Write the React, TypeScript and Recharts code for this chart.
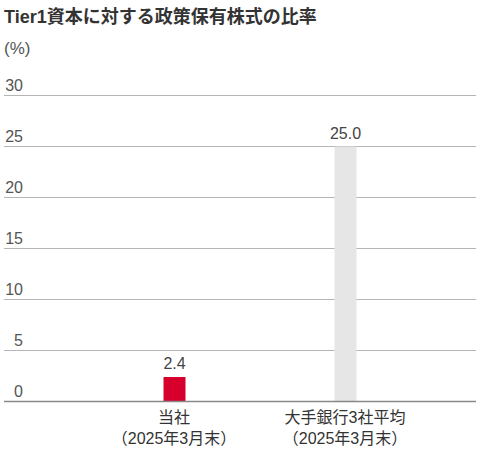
import { BarChart, Bar, XAxis, YAxis, CartesianGrid, Cell, LabelList } from 'recharts'

const categories = ['当社', '大手銀行3社平均']
const subLabels = ['（2025年3月末）', '（2025年3月末）']
const ratios = [2.4, 25.0]
const yTicks = [0, 5, 10, 15, 20, 25, 30]

const barColors = ['#d7002c', '#e6e6e6']
const font = '"Liberation Sans", "Noto Sans CJK JP", sans-serif'

const data = categories.map((name, i) => ({ name, sub: subLabels[i], value: ratios[i] }))

function YTick({ y, payload }) {
  return (
    <text x={23} y={y - 5} textAnchor="end" fontSize={16} fill="#555" fontFamily={font}>
      {payload.value}
    </text>
  )
}

function XTick({ x, y, payload, index }) {
  return (
    <text x={x} y={y} textAnchor="middle" fontSize={16} fill="#333" fontFamily={font}>
      <tspan x={x} dy={21}>{payload.value}</tspan>
      <tspan x={x} dy={21}>{subLabels[index]}</tspan>
    </text>
  )
}

export default function App() {
  return (
    <div style={{ position: 'absolute', left: 0, top: 0, width: 480, height: 451, fontFamily: font }}>
      <div style={{ position: 'absolute', left: 4, top: 2, fontSize: 18, fontWeight: 'bold', color: '#333', whiteSpace: 'nowrap' }}>
        Tier1資本に対する政策保有株式の比率
      </div>
      <div style={{ position: 'absolute', left: 4, top: 39, fontSize: 17, color: '#555' }}>(%)</div>
      <BarChart width={480} height={451} data={data} margin={{ top: 95.5, right: 4, bottom: 0, left: -26 }}>
        <CartesianGrid vertical={false} stroke="#b5b5b5" />
        <XAxis
          dataKey="name"
          height={49.5}
          tickLine={false}
          tickSize={0}
          tickMargin={0}
          axisLine={{ stroke: '#888', strokeWidth: 1.5 }}
          padding={{ left: 84.5, right: 45.5 }}
          tick={<XTick />}
          interval={0}
        />
        <YAxis
          width={30}
          domain={[0, 30]}
          ticks={yTicks}
          axisLine={false}
          tickLine={false}
          tick={<YTick />}
        />
        <Bar dataKey="value" barSize={22} isAnimationActive={false}>
          {data.map((d, i) => (
            <Cell key={d.name} fill={barColors[i]} />
          ))}
          <LabelList
            dataKey="value"
            position="top"
            offset={8}
            formatter={(v) => Number(v).toFixed(1)}
            style={{ fontSize: 16, fill: '#444', fontFamily: font }}
          />
        </Bar>
      </BarChart>
    </div>
  )
}
